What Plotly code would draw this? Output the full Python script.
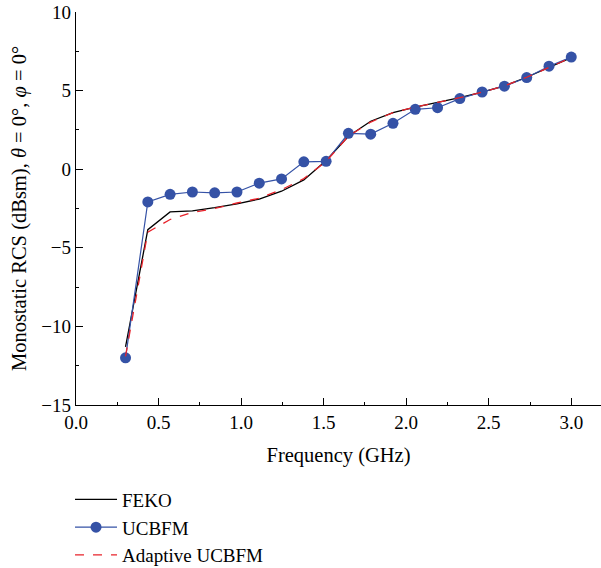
import plotly.graph_objects as go

# Frequency sweep (GHz)
freq = [0.3, 0.435, 0.57, 0.705, 0.84, 0.975, 1.11, 1.245, 1.38, 1.515, 1.65,
        1.785, 1.92, 2.055, 2.19, 2.325, 2.46, 2.595, 2.73, 2.865, 3.0]

# Monostatic RCS (dBsm)
feko = [-11.3, -3.85, -2.72, -2.65, -2.45, -2.2, -1.9, -1.4, -0.68, 0.55, 2.1,
        3.05, 3.6, 3.95, 4.25, 4.55, 4.9, 5.3, 5.85, 6.5, 7.1]
ucbfm = [-12.0, -2.08, -1.6, -1.45, -1.5, -1.45, -0.89, -0.62, 0.47, 0.5, 2.28,
         2.23, 2.92, 3.81, 3.91, 4.49, 4.91, 5.28, 5.83, 6.55, 7.13]
adaptive = [-11.9, -4.0, -3.2, -2.75, -2.5, -2.15, -1.85, -1.3, -0.6, 0.5, 2.1,
            3.0, 3.6, 3.95, 4.25, 4.55, 4.9, 5.3, 5.85, 6.5, 7.1]

x_ticks = [0.0, 0.5, 1.0, 1.5, 2.0, 2.5, 3.0]
y_ticks = [-15, -10, -5, 0, 5, 10]

FONT = "'Liberation Serif', 'Times New Roman', serif"

fig = go.Figure()
fig.add_trace(go.Scatter(x=freq, y=feko, mode="lines", name="FEKO",
                         line=dict(color="black", width=1.3)))
fig.add_trace(go.Scatter(x=freq, y=ucbfm, mode="lines+markers", name="UCBFM",
                         line=dict(color="#3552A6", width=1.2),
                         marker=dict(color="#3552A6", size=11)))
fig.add_trace(go.Scatter(x=freq, y=adaptive, mode="lines", name="Adaptive UCBFM",
                         line=dict(color="#E8232B", width=1.3, dash="dash")))

fig.update_layout(
    width=601, height=568,
    margin=dict(l=76, r=0, t=12, b=163, autoexpand=False),
    paper_bgcolor="white", plot_bgcolor="white",
    font=dict(family=FONT, size=19, color="black"),
    showlegend=True,
    legend=dict(x=-0.0114, y=-0.1924, xanchor="left", yanchor="top",
                font=dict(family=FONT, size=19, color="black"),
                bgcolor="rgba(0,0,0,0)", tracegroupgap=0, itemwidth=42),
    xaxis=dict(
        range=[0, 3.18], tickvals=x_ticks, ticktext=[f"{v:.1f}" for v in x_ticks],
        ticks="inside", ticklen=7, tickwidth=1.2, tickcolor="black",
        minor=dict(dtick=0.25, ticks="inside", ticklen=3, tickwidth=1.2, tickcolor="black"),
        showline=True, linecolor="black", linewidth=1.3,
        showgrid=False, zeroline=False,
        title=dict(text="Frequency (GHz)", font=dict(family=FONT, size=20.5), standoff=15),
    ),
    yaxis=dict(
        range=[-15, 10], tickvals=y_ticks,
        ticks="inside", ticklen=7, tickwidth=1.2, tickcolor="black",
        minor=dict(dtick=2.5, ticks="inside", ticklen=3, tickwidth=1.2, tickcolor="black"),
        showline=True, linecolor="black", linewidth=1.3,
        showgrid=False, zeroline=False,
        title=dict(text="Monostatic RCS (dBsm), <i>θ</i> = 0°, <i>φ</i> = 0°",
                   font=dict(family=FONT, size=20.5), standoff=9),
    ),
)

fig.write_html("out.html")
